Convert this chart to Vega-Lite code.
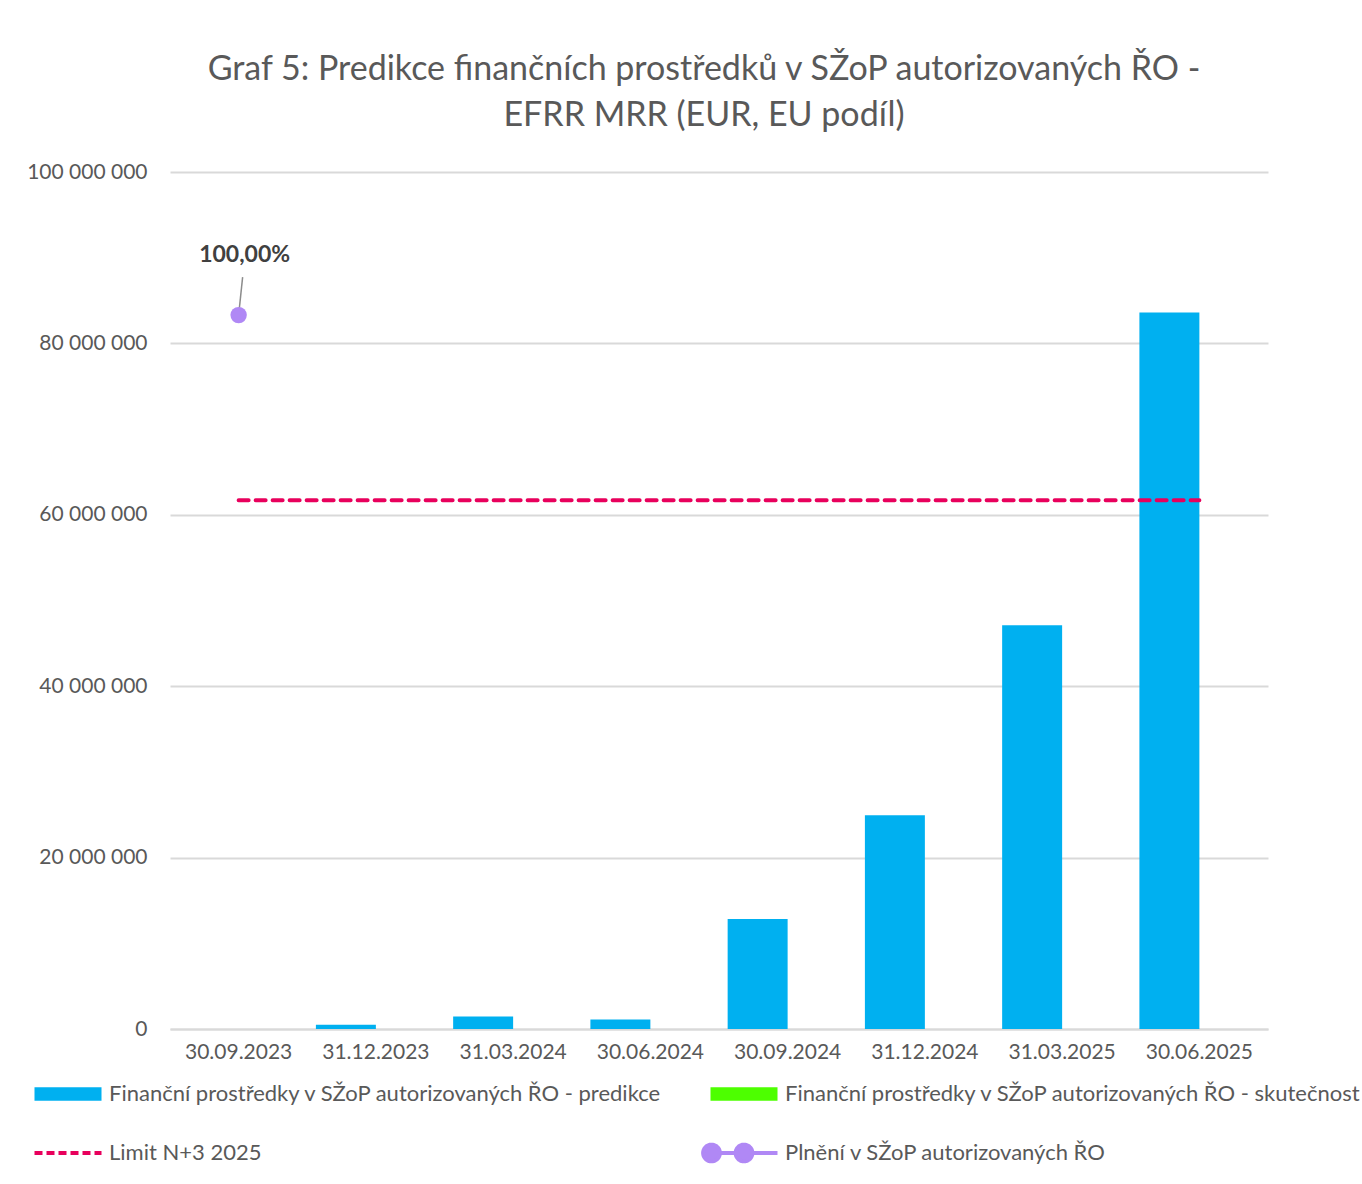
{
  "$schema": "https://vega.github.io/schema/vega-lite/v6.json",
  "width": 1098,
  "height": 857,
  "autosize": {"type": "none"},
  "padding": {"left": 170, "top": 172, "right": 94, "bottom": 155},
  "background": "white",
  "config": {
    "view": {"stroke": null},
    "font": "Lato",
    "locale": {"number": {"decimal": ",", "thousands": " ", "grouping": [3], "currency": ["", " €"]}}
  },
  "title": {
    "text": ["Graf 5: Predikce finančních prostředků v SŽoP autorizovaných ŘO -", "EFRR MRR (EUR, EU podíl)"],
    "font": "Lato",
    "fontSize": 34,
    "fontWeight": "normal",
    "color": "#595959",
    "lineHeight": 46,
    "anchor": "middle",
    "frame": "group",
    "dx": -15,
    "offset": 28
  },
  "datasets": {
    "bars": [
      {"date": "30.09.2023", "series": "Finanční prostředky v SŽoP autorizovaných ŘO - predikce", "value": 0},
      {"date": "31.12.2023", "series": "Finanční prostředky v SŽoP autorizovaných ŘO - predikce", "value": 500000},
      {"date": "31.03.2024", "series": "Finanční prostředky v SŽoP autorizovaných ŘO - predikce", "value": 1450000},
      {"date": "30.06.2024", "series": "Finanční prostředky v SŽoP autorizovaných ŘO - predikce", "value": 1100000},
      {"date": "30.09.2024", "series": "Finanční prostředky v SŽoP autorizovaných ŘO - predikce", "value": 12850000},
      {"date": "31.12.2024", "series": "Finanční prostředky v SŽoP autorizovaných ŘO - predikce", "value": 24950000},
      {"date": "31.03.2025", "series": "Finanční prostředky v SŽoP autorizovaných ŘO - predikce", "value": 47100000},
      {"date": "30.06.2025", "series": "Finanční prostředky v SŽoP autorizovaných ŘO - predikce", "value": 83600000}
    ],
    "limit": [
      {"date": "30.09.2023", "series": "Limit N+3 2025", "value": 61700000},
      {"date": "31.12.2023", "series": "Limit N+3 2025", "value": 61700000},
      {"date": "31.03.2024", "series": "Limit N+3 2025", "value": 61700000},
      {"date": "30.06.2024", "series": "Limit N+3 2025", "value": 61700000},
      {"date": "30.09.2024", "series": "Limit N+3 2025", "value": 61700000},
      {"date": "31.12.2024", "series": "Limit N+3 2025", "value": 61700000},
      {"date": "31.03.2025", "series": "Limit N+3 2025", "value": 61700000},
      {"date": "30.06.2025", "series": "Limit N+3 2025", "value": 61700000}
    ],
    "plneni": [
      {"date": "30.09.2023", "series": "Plnění v SŽoP autorizovaných ŘO", "value": 83300000, "label": "100,00%"}
    ]
  },
  "encoding": {
    "x": {
      "field": "date",
      "type": "ordinal",
      "sort": ["30.09.2023", "31.12.2023", "31.03.2024", "30.06.2024", "30.09.2024", "31.12.2024", "31.03.2025", "30.06.2025"],
      "scale": {"domain": ["30.09.2023", "31.12.2023", "31.03.2024", "30.06.2024", "30.09.2024", "31.12.2024", "31.03.2025", "30.06.2025"], "paddingInner": 0.126, "paddingOuter": 0.063},
      "axis": {
        "title": null,
        "labelAngle": 0,
        "labelFont": "Lato",
        "labelFontSize": 21,
        "labelColor": "#595959",
        "labelPadding": 12,
        "ticks": false,
        "domain": true,
        "domainColor": "#D9D9D9",
        "domainWidth": 2,
        "grid": false
      }
    },
    "y": {
      "field": "value",
      "type": "quantitative",
      "scale": {"domain": [0, 100000000]},
      "axis": {
        "title": null,
        "values": [0, 20000000, 40000000, 60000000, 80000000, 100000000],
        "format": ",d",
        "labelFont": "Lato",
        "labelFontSize": 21,
        "labelColor": "#595959",
        "labelPadding": 23,
        "ticks": false,
        "domain": false,
        "grid": true,
        "gridColor": "#D9D9D9",
        "gridWidth": 2
      }
    }
  },
  "layer": [
    {
      "data": {"name": "bars"},
      "mark": {"type": "bar"},
      "encoding": {
        "xOffset": {
          "field": "series",
          "type": "nominal",
          "scale": {"domain": ["Finanční prostředky v SŽoP autorizovaných ŘO - predikce", "Finanční prostředky v SŽoP autorizovaných ŘO - skutečnost"], "paddingInner": 0, "paddingOuter": 0}
        },
        "color": {
          "field": "series",
          "type": "nominal",
          "scale": {
            "domain": ["Finanční prostředky v SŽoP autorizovaných ŘO - predikce", "Finanční prostředky v SŽoP autorizovaných ŘO - skutečnost", "Limit N+3 2025", "Plnění v SŽoP autorizovaných ŘO"],
            "range": ["#00B0F0", "#4DFF00", "#E8005C", "#B088F5"]
          },
          "legend": {
            "title": null,
            "orient": "none",
            "legendX": -113,
            "legendY": 911,
            "direction": "horizontal",
            "columns": 2,
            "columnPadding": 32,
            "rowPadding": 31,
            "symbolSize": 4489,
            "symbolType": "square",
            "labelFont": "Lato",
            "labelFontSize": 22,
            "labelColor": "#595959",
            "labelLimit": 800,
            "labelOffset": 30,
            "encode": {
              "symbols": {
                "update": {
                  "shape": {"signal": "datum.value === 'Limit N+3 2025' ? 'M-1,0H1' : (datum.value === 'Plnění v SŽoP autorizovaných ŘO' ? 'M-1,0H1M-1.22,0a0.25,0.25 0 1,0 0.5,0a0.25,0.25 0 1,0 -0.5,0M-0.25,0a0.25,0.25 0 1,0 0.5,0a0.25,0.25 0 1,0 -0.5,0' : 'M-1,-0.2H1V0.2H-1Z')"},
                  "fill": {"signal": "scale('color', datum.value)"},
                  "stroke": {"signal": "scale('color', datum.value)"},
                  "strokeWidth": {"signal": "datum.value === 'Limit N+3 2025' ? 4 : (datum.value === 'Plnění v SŽoP autorizovaných ŘO' ? 4 : 0)"},
                  "strokeDash": {"signal": "datum.value === 'Limit N+3 2025' ? [8, 4] : [1, 0]"},
                  "opacity": {"value": 1},
                  "fillOpacity": {"value": 1}
                }
              }
            }
          }
        }
      }
    },
    {
      "data": {"name": "limit"},
      "mark": {"type": "line", "strokeDash": [10, 7], "strokeWidth": 4, "strokeCap": "round"},
      "encoding": {
        "color": {"field": "series", "type": "nominal"}
      }
    },
    {
      "data": {"name": "plneni"},
      "mark": {"type": "rule", "color": "#8C8C8C", "strokeWidth": 1.5, "y2Offset": -38, "x2Offset": 4},
      "encoding": {
        "x2": {"field": "date"},
        "y2": {"field": "value"}
      }
    },
    {
      "data": {"name": "plneni"},
      "mark": {"type": "point", "filled": true, "size": 270, "opacity": 1},
      "encoding": {
        "color": {"field": "series", "type": "nominal"}
      }
    },
    {
      "data": {"name": "plneni"},
      "mark": {"type": "text", "font": "Lato", "fontSize": 23, "fontWeight": "bold", "color": "#404040", "dx": 6, "dy": -60},
      "encoding": {
        "text": {"field": "label"}
      }
    }
  ]
}
